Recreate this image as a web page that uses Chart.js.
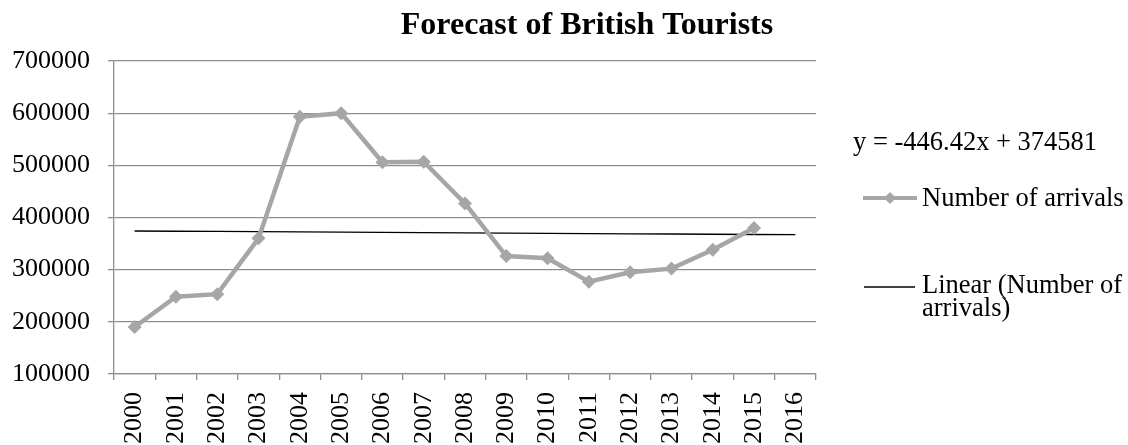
<!DOCTYPE html>
<html>
<head>
<meta charset="utf-8">
<script src="https://cdn.jsdelivr.net/npm/chart.js@4.4.1/dist/chart.umd.min.js"></script>
<style>
  html, body { margin: 0; padding: 0; background: #fff; }
  #wrap { position: relative; width: 1128px; height: 445px; }
</style>
</head>
<body>
<div id="wrap"><canvas id="chart"></canvas></div>
<script>
// Years on the category axis
const years = ['2000','2001','2002','2003','2004','2005','2006','2007','2008',
               '2009','2010','2011','2012','2013','2014','2015','2016'];
// Number of British tourist arrivals per year (2016 not yet observed)
const arrivals = [190000, 248000, 253000, 360000, 593000, 600000, 506000, 507000,
                  427000, 326000, 322000, 277000, 295000, 302000, 338000, 380000, null];
// Linear trend coefficients (x = 1 for the first year)
const trendSlope = -446.42;
const trendIntercept = 374581;
// Value axis ticks
const yTicks = [100000, 200000, 300000, 400000, 500000, 600000, 700000];

const trend = years.map((_, i) => trendSlope * (i + 1) + trendIntercept);
const equationText = 'y = ' + trendSlope.toFixed(2) + 'x + ' + trendIntercept;

const SERIF = '"Liberation Serif", "Times New Roman", serif';
const GRID = '#8e8e8e';
const LINE = '#a6a6a6';

// Title, equation and legend drawn in the free space beside the plot
const sidePlugin = {
  id: 'side',
  afterDraw(chart) {
    const ctx = chart.ctx;
    ctx.save();
    ctx.fillStyle = '#000';
    ctx.textBaseline = 'alphabetic';

    ctx.font = 'bold 32px ' + SERIF;
    ctx.textAlign = 'center';
    ctx.fillText('Forecast of British Tourists', 587, 34);

    ctx.textAlign = 'left';
    ctx.font = '26.5px ' + SERIF;
    ctx.fillText(equationText, 853, 150);

    // series entry
    ctx.strokeStyle = LINE;
    ctx.lineWidth = 4;
    ctx.beginPath(); ctx.moveTo(863, 198); ctx.lineTo(917, 198); ctx.stroke();
    ctx.fillStyle = LINE;
    ctx.beginPath();
    ctx.moveTo(890, 192); ctx.lineTo(896, 198); ctx.lineTo(890, 204); ctx.lineTo(884, 198);
    ctx.closePath(); ctx.fill();
    ctx.fillStyle = '#000';
    ctx.fillText('Number of arrivals', 922, 206);

    // trend entry
    ctx.strokeStyle = '#000';
    ctx.lineWidth = 1.3;
    ctx.beginPath(); ctx.moveTo(864, 287); ctx.lineTo(915, 287); ctx.stroke();
    ctx.fillText('Linear (Number of', 922, 293);
    ctx.fillText('arrivals)', 922, 316);
    ctx.restore();
  }
};

new Chart(document.getElementById('chart'), {
  type: 'line',
  data: {
    labels: years,
    datasets: [
      {
        label: 'Number of arrivals',
        data: arrivals,
        borderColor: LINE,
        backgroundColor: LINE,
        borderWidth: 4.5,
        pointStyle: 'rectRot',
        pointRadius: 7,
        pointBorderWidth: 0,
        pointBackgroundColor: LINE,
        tension: 0,
        spanGaps: false,
        order: 1
      },
      {
        label: 'Linear (Number of arrivals)',
        data: trend,
        borderColor: '#000',
        borderWidth: 1.3,
        pointRadius: 0,
        tension: 0,
        order: 2
      }
    ]
  },
  options: {
    responsive: true,
    maintainAspectRatio: false,
    animation: false,
    devicePixelRatio: 1,
    layout: { padding: { left: 0, top: 61, right: 312, bottom: 0 } },
    plugins: { legend: { display: false }, title: { display: false }, tooltip: { enabled: false } },
    scales: {
      x: {
        offset: true,
        afterFit(scale) { scale.height = 71; },
        grid: { offset: true, drawOnChartArea: false, drawTicks: true, tickLength: 6, color: GRID, lineWidth: 1.3 },
        border: { color: GRID, width: 1.3 },
        ticks: {
          maxRotation: 90, minRotation: 90, autoSkip: false, padding: 12,
          color: '#000', font: { family: SERIF, size: 26 }
        }
      },
      y: {
        min: 100000, max: 700000,
        afterFit(scale) { scale.width = 114; },
        afterBuildTicks(scale) { scale.ticks = yTicks.map(v => ({ value: v })); },
        grid: { color: GRID, lineWidth: 1.3, tickLength: 6 },
        border: { color: GRID, width: 1.3 },
        ticks: {
          padding: 18, color: '#000', font: { family: SERIF, size: 26 },
          callback: v => String(v)
        }
      }
    }
  },
  plugins: [sidePlugin]
});
</script>
</body>
</html>
